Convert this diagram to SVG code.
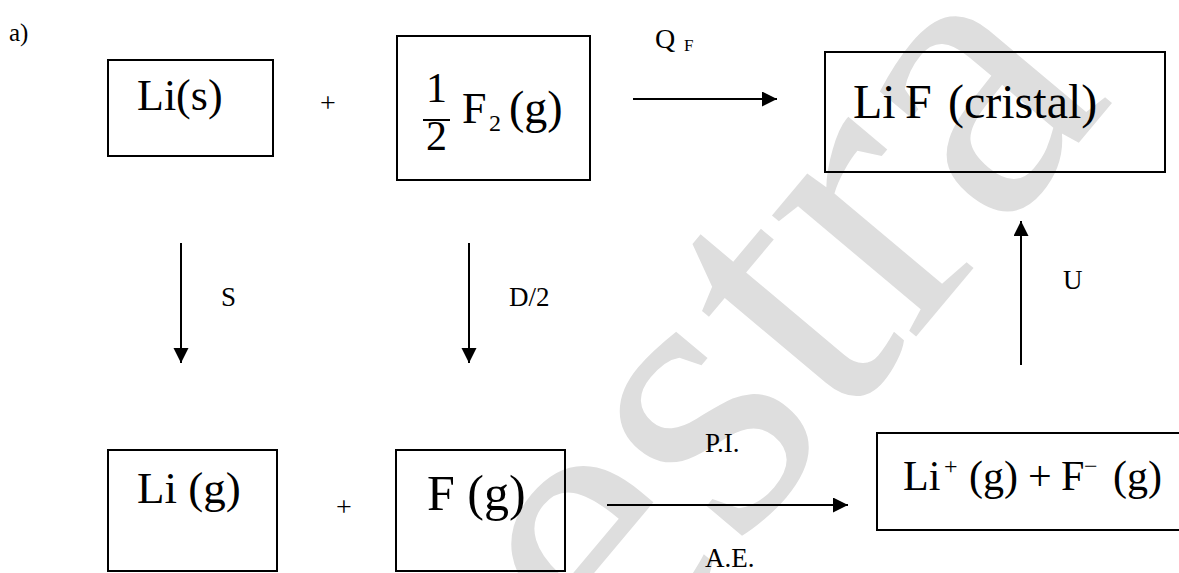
<svg xmlns="http://www.w3.org/2000/svg" width="1179" height="573" viewBox="0 0 1179 573">
<style>
  text { font-family: "Liberation Serif", "Times New Roman", serif; fill: #000; }
  .box { fill: none; stroke: #000; stroke-width: 2; }
  .conn { stroke: #000; stroke-width: 2; fill: none; }
  .big { font-size: 44px; }
  .lbl { font-size: 27px; }
  .wm { font-size: 410px; fill: #dedede; }
</style>
<defs>
  <marker id="ah" markerUnits="userSpaceOnUse" markerWidth="16" markerHeight="16" refX="15" refY="7.5" orient="auto">
    <path d="M0,0 L15,7.5 L0,15 z" fill="#000"/>
  </marker>
</defs>
<rect width="1179" height="573" fill="#fff"/>
<text class="wm" transform="translate(252,1128) rotate(-50)">Muestra</text>

<text x="9" y="41" style="font-size:25px">a)</text>

<g id="li-s">
  <rect class="box" x="108" y="60" width="165" height="96"/>
  <text class="big" x="137" y="110">Li(s)</text>
</g>
<text x="320" y="112" style="font-size:28px">+</text>

<g id="half-f2">
  <rect class="box" x="397" y="36" width="193" height="144"/>
  <text x="426" y="102" style="font-size:42px">1</text>
  <line x1="423" y1="120" x2="450" y2="120" stroke="#000" stroke-width="2"/>
  <text x="426" y="150" style="font-size:42px">2</text>
  <text x="462" y="123" style="font-size:44px">F</text>
  <text x="489" y="131" style="font-size:24px">2</text>
  <text x="509" y="123" style="font-size:46px">(g)</text>
</g>

<g id="lif">
  <rect class="box" x="825" y="52" width="340" height="120"/>
  <text x="853" y="118" style="font-size:48px">Li<tspan x="905">F</tspan><tspan x="948">(cristal)</tspan></text>
</g>

<g id="li-g">
  <rect class="box" x="108" y="450" width="169" height="121"/>
  <text x="137" y="503" style="font-size:45px">Li (g)</text>
</g>
<text x="336" y="516" style="font-size:28px">+</text>

<g id="f-g">
  <rect class="box" x="396" y="450" width="169" height="121"/>
  <text x="427" y="510" style="font-size:50px">F (g)</text>
</g>

<g id="ions">
  <rect class="box" x="877" y="433" width="310" height="97"/>
  <text x="903" y="490" style="font-size:42px">Li</text>
  <text x="944" y="474" style="font-size:24px">+</text>
  <text x="969" y="490" style="font-size:42px">(g)</text>
  <text x="1028" y="490" style="font-size:42px">+</text>
  <text x="1061" y="490" style="font-size:42px">F</text>
  <text x="1084" y="474" style="font-size:24px">−</text>
  <text x="1113" y="490" style="font-size:42px">(g)</text>
</g>

<g id="connectors">
  <line class="conn" x1="633" y1="99" x2="777" y2="99" marker-end="url(#ah)"/>
  <line class="conn" x1="181" y1="243" x2="181" y2="363" marker-end="url(#ah)"/>
  <line class="conn" x1="469" y1="243" x2="469" y2="363" marker-end="url(#ah)"/>
  <line class="conn" x1="1021" y1="365" x2="1021" y2="221" marker-end="url(#ah)"/>
  <line class="conn" x1="607" y1="505" x2="848" y2="505" marker-end="url(#ah)"/>
  <text x="655" y="48" style="font-size:28px">Q</text>
  <text x="684" y="51" style="font-size:17px">F</text>
  <text class="lbl" x="221" y="306">S</text>
  <text class="lbl" x="509" y="306">D/2</text>
  <text class="lbl" x="1063" y="289">U</text>
  <text class="lbl" x="705" y="452">P.I.</text>
  <text class="lbl" x="705" y="567">A.E.</text>
</g>
</svg>
